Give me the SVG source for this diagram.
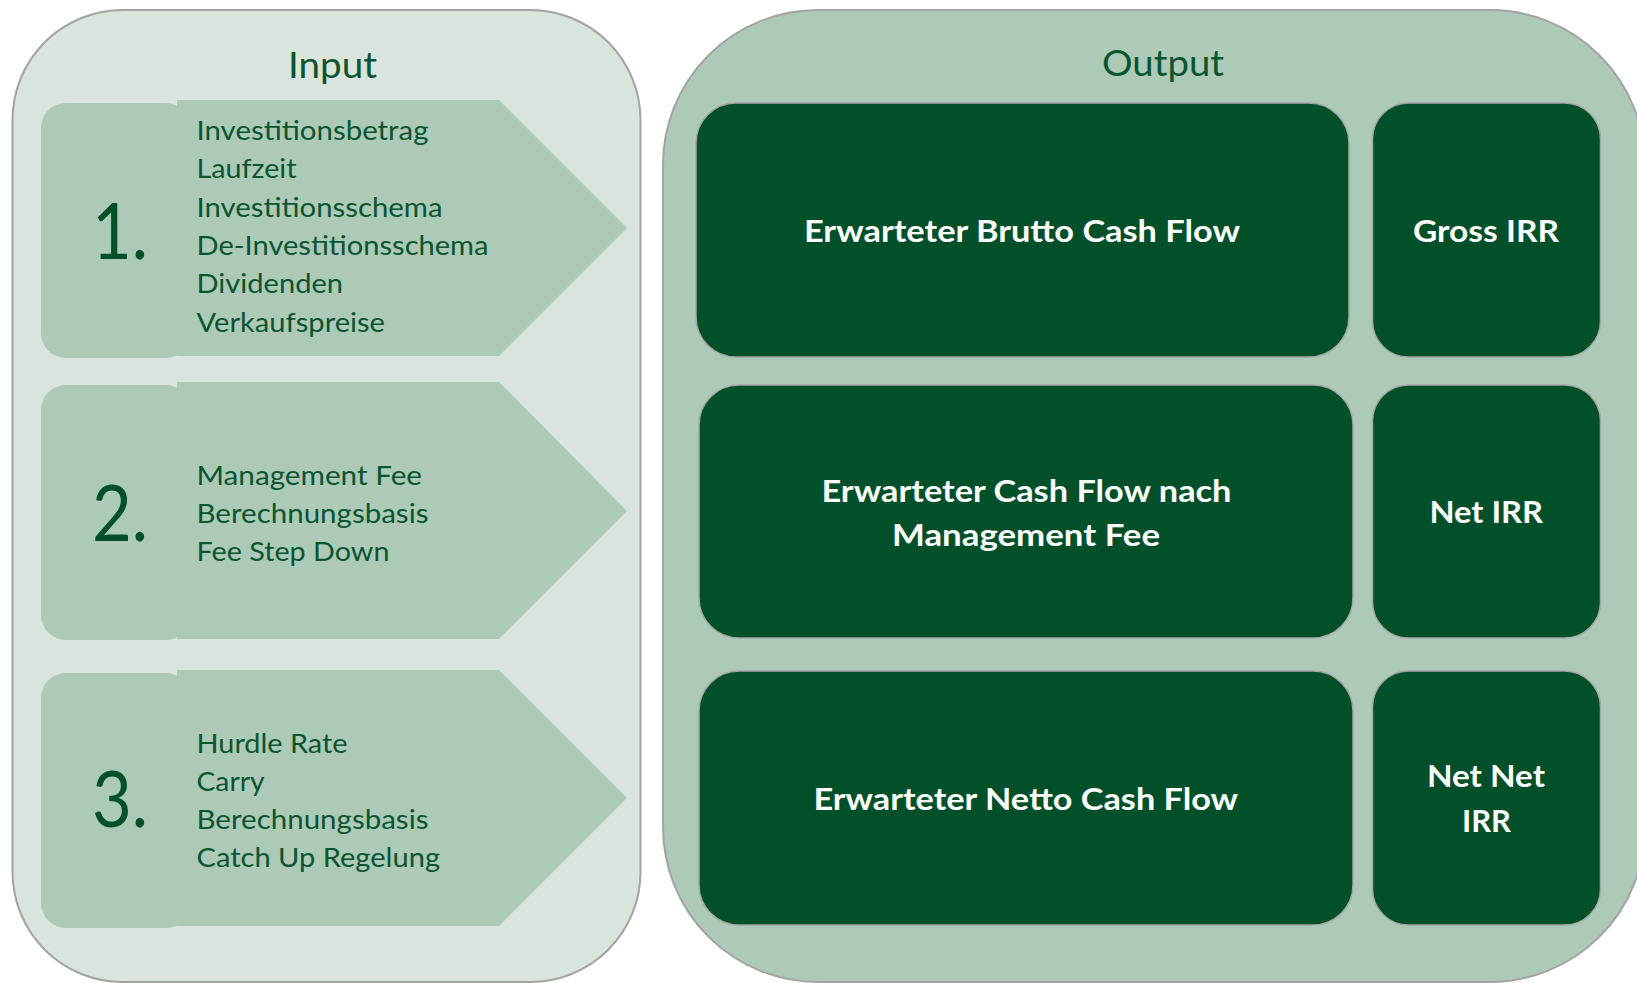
<svg xmlns="http://www.w3.org/2000/svg" width="1637" height="983" viewBox="0 0 1637 983">
  <style>
    .panel-in { fill: #D8E4DC; stroke: #A3A3A3; stroke-width: 2; }
    .panel-out { fill: #ADC9B8; stroke: #A3A3A3; stroke-width: 2; }
    .chev { fill: #ADC9B8; }
    .box { fill: #01502A; stroke: #A6A6A6; stroke-width: 1.5; }
    .title { font-family: Lato, "Liberation Sans", sans-serif; font-size: 36px; fill: #0B5530; }
    .num { font-family: Lato, "Liberation Sans", sans-serif; font-size: 78px; fill: #01502A; }
    .item { font-family: Lato, "Liberation Sans", sans-serif; font-size: 26.5px; fill: #0B5530; }
    .lbl { font-family: Lato, "Liberation Sans", sans-serif; font-size: 30px; font-weight: bold; fill: #FFFFFF; }
  </style>
  <rect width="1637" height="983" fill="#FFFFFF"/>

  <!-- Input panel -->
  <g id="input-panel">
    <rect class="panel-in" x="12.5" y="10" width="628" height="972" rx="110" ry="110"/>
    <text class="title" x="288" y="77.5" textLength="89" lengthAdjust="spacingAndGlyphs">Input</text>
  </g>

  <!-- Step 1 -->
  <g id="step-1">
    <rect class="chev" x="41" y="103" width="150" height="255" rx="25" ry="25"/>
    <polygon class="chev" points="177,100 499,100 627,228 499,356 177,356"/>
    <text class="num" x="92" y="259" textLength="56" lengthAdjust="spacingAndGlyphs">1.</text>
    <text class="item" x="196.5" y="140" textLength="232" lengthAdjust="spacingAndGlyphs">Investitionsbetrag</text>
    <text class="item" x="196.5" y="178.3" textLength="100" lengthAdjust="spacingAndGlyphs">Laufzeit</text>
    <text class="item" x="196.5" y="216.6" textLength="246" lengthAdjust="spacingAndGlyphs">Investitionsschema</text>
    <text class="item" x="196.5" y="254.9" textLength="292" lengthAdjust="spacingAndGlyphs">De-Investitionsschema</text>
    <text class="item" x="196.5" y="293.2" textLength="146.5" lengthAdjust="spacingAndGlyphs">Dividenden</text>
    <text class="item" x="196.5" y="331.5" textLength="188.5" lengthAdjust="spacingAndGlyphs">Verkaufspreise</text>
  </g>

  <!-- Step 2 -->
  <g id="step-2">
    <rect class="chev" x="41" y="385" width="150" height="255" rx="25" ry="25"/>
    <polygon class="chev" points="177,382 499,382 627,511 499,639 177,639"/>
    <text class="num" x="92" y="541" textLength="56" lengthAdjust="spacingAndGlyphs">2.</text>
    <text class="item" x="196.5" y="485" textLength="225.5" lengthAdjust="spacingAndGlyphs">Management Fee</text>
    <text class="item" x="196.5" y="523" textLength="232" lengthAdjust="spacingAndGlyphs">Berechnungsbasis</text>
    <text class="item" x="196.5" y="561" textLength="193" lengthAdjust="spacingAndGlyphs">Fee Step Down</text>
  </g>

  <!-- Step 3 -->
  <g id="step-3">
    <rect class="chev" x="41" y="673" width="150" height="255" rx="25" ry="25"/>
    <polygon class="chev" points="177,670 499,670 627,798 499,926 177,926"/>
    <text class="num" x="92" y="827" textLength="56" lengthAdjust="spacingAndGlyphs">3.</text>
    <text class="item" x="196.5" y="752.5" textLength="151" lengthAdjust="spacingAndGlyphs">Hurdle Rate</text>
    <text class="item" x="196.5" y="790.5" textLength="68" lengthAdjust="spacingAndGlyphs">Carry</text>
    <text class="item" x="196.5" y="829" textLength="232" lengthAdjust="spacingAndGlyphs">Berechnungsbasis</text>
    <text class="item" x="196.5" y="867" textLength="243.5" lengthAdjust="spacingAndGlyphs">Catch Up Regelung</text>
  </g>

  <!-- Output panel -->
  <g id="output-panel">
    <rect class="panel-out" x="663" y="10" width="982" height="972" rx="155" ry="155"/>
    <text class="title" x="1102" y="76" textLength="122" lengthAdjust="spacingAndGlyphs">Output</text>
  </g>

  <!-- Output row 1 -->
  <g id="brutto-cash-flow">
    <rect class="box" x="696" y="103" width="653" height="254" rx="40" ry="40"/>
    <text class="lbl" x="804" y="241.5" textLength="436" lengthAdjust="spacingAndGlyphs">Erwarteter Brutto Cash Flow</text>
  </g>
  <g id="gross-irr">
    <rect class="box" x="1372.5" y="103" width="228" height="254" rx="36" ry="36"/>
    <text class="lbl" x="1413" y="241.5" textLength="146" lengthAdjust="spacingAndGlyphs">Gross IRR</text>
  </g>

  <!-- Output row 2 -->
  <g id="cash-flow-nach-fee">
    <rect class="box" x="699" y="385" width="654" height="253" rx="40" ry="40"/>
    <text class="lbl" x="821.5" y="501.5" textLength="410" lengthAdjust="spacingAndGlyphs">Erwarteter Cash Flow nach</text>
    <text class="lbl" x="892" y="546" textLength="268" lengthAdjust="spacingAndGlyphs">Management Fee</text>
  </g>
  <g id="net-irr">
    <rect class="box" x="1372.5" y="385" width="228" height="253" rx="36" ry="36"/>
    <text class="lbl" x="1429.5" y="523" textLength="113.5" lengthAdjust="spacingAndGlyphs">Net IRR</text>
  </g>

  <!-- Output row 3 -->
  <g id="netto-cash-flow">
    <rect class="box" x="699" y="671" width="654" height="254" rx="40" ry="40"/>
    <text class="lbl" x="813.5" y="810" textLength="424.5" lengthAdjust="spacingAndGlyphs">Erwarteter Netto Cash Flow</text>
  </g>
  <g id="net-net-irr">
    <rect class="box" x="1372.5" y="671" width="228" height="254" rx="36" ry="36"/>
    <text class="lbl" x="1427" y="787" textLength="118" lengthAdjust="spacingAndGlyphs">Net Net</text>
    <text class="lbl" x="1462" y="832" textLength="49" lengthAdjust="spacingAndGlyphs">IRR</text>
  </g>

  <!-- no connectors between the panels -->
  <g id="connectors"/>
</svg>
